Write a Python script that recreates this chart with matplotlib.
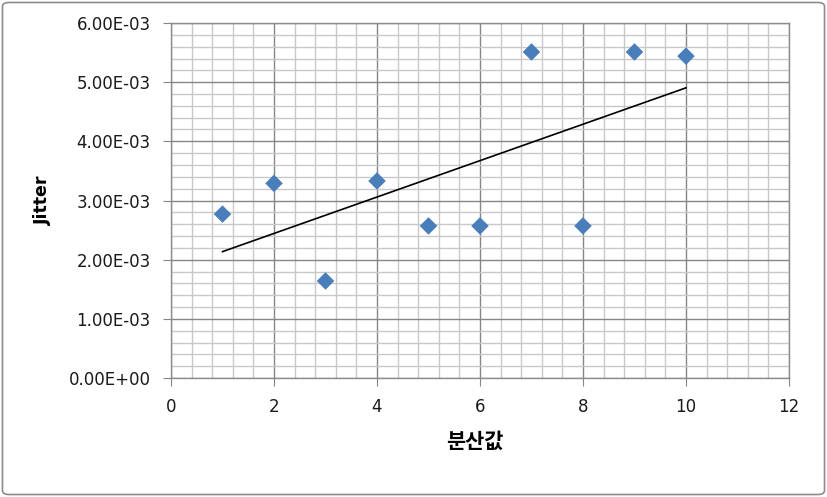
import numpy as np
import matplotlib
matplotlib.use('Agg')
from matplotlib import pyplot as plt
from matplotlib.patches import FancyBboxPatch
from matplotlib.ticker import MultipleLocator, FuncFormatter

plt.rcParams['font.family'] = ['DejaVu Sans', 'Noto Sans CJK KR']

# data
x_vals = [1, 2, 3, 4, 5, 6, 7, 8, 9, 10]
jitter = [2.77e-3, 3.29e-3, 1.64e-3, 3.33e-3, 2.57e-3,
          2.57e-3, 5.51e-3, 2.57e-3, 5.51e-3, 5.44e-3]

fig = plt.figure(figsize=(8.27, 4.97), dpi=100)
ax = fig.add_axes([171/827, 1-378/497, (789-171)/827, (378-23)/497])

# outer frame of the chart
fig.patches.append(FancyBboxPatch((0.003, 0.005), 0.994, 0.99,
                                  boxstyle='round,pad=0,rounding_size=0.008',
                                  transform=fig.transFigure, fill=False,
                                  edgecolor='#8c8c8c', linewidth=1.2))

ax.set_xlim(0, 12)
ax.set_ylim(0, 6e-3)
ax.xaxis.set_major_locator(MultipleLocator(2))
ax.xaxis.set_minor_locator(MultipleLocator(0.4))
ax.yaxis.set_major_locator(MultipleLocator(1e-3))
ax.yaxis.set_minor_locator(MultipleLocator(0.2e-3))

def sci(v, pos):
    s = '%.2E' % v
    mant, ex = s.split('E')
    return mant + 'E' + ex[0] + ex[1:].zfill(2)

ax.yaxis.set_major_formatter(FuncFormatter(sci))

ax.grid(which='major', color='#868686', linewidth=1.0)
ax.grid(which='minor', color='#c8c8c8', linewidth=1.0)
ax.set_axisbelow(True)

for sp in ax.spines.values():
    sp.set_color('#8c8c8c')
    sp.set_linewidth(1.0)

ax.tick_params(which='major', direction='out', length=5.5, color='#868686',
               labelsize=12, labelcolor='#1a1a1a')
ax.tick_params(which='minor', length=0)
ax.tick_params(axis='y', pad=9)
ax.tick_params(axis='x', pad=9)

# points and linear trend line
ax.scatter(x_vals, jitter, marker='D', s=80, color='#4a7ebb', zorder=3,
           edgecolors='none')
coef = np.polyfit(x_vals, jitter, 1)
xs = np.array([min(x_vals), max(x_vals)])
ax.plot(xs, np.polyval(coef, xs), color='black', linewidth=1.2, zorder=2)

ax.set_ylabel('Jitter', fontsize=12.5, fontweight='bold')
ax.set_xlabel('분산값', fontsize=15, fontweight='bold')
ax.yaxis.set_label_coords((52-171)/618, 0.5)
ax.xaxis.set_label_coords((475-171)/618, (378-432)/355)

fig.savefig('out.png', dpi=100)
